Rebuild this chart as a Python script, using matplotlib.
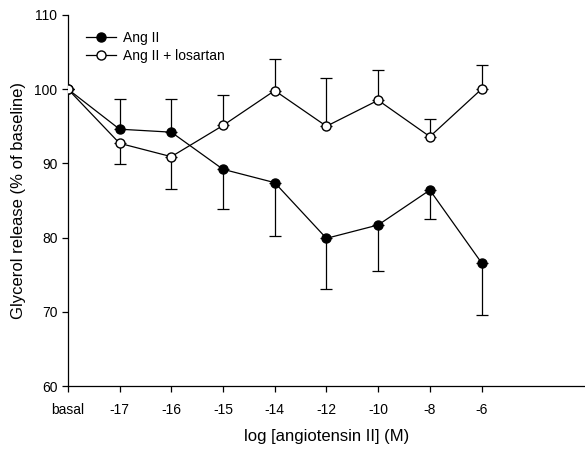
import matplotlib.pyplot as plt
from matplotlib.lines import Line2D

plt.rcParams["font.family"] = ["Liberation Sans", "DejaVu Sans"]

doses = ["basal", "-17", "-16", "-15", "-14", "-12", "-10", "-8", "-6"]

ang2 = [100, 94.6, 94.2, 89.2, 87.4, 79.9, 81.7, 86.4, 76.6]
ang2_err_lo = [0, 0, 0, 5.4, 7.2, 6.8, 6.2, 3.9, 7.0]
ang2_err_hi = [0, 4.1, 4.5, 0, 0, 0, 0, 0, 0]

losartan = [100, 92.7, 90.9, 95.1, 99.8, 95.0, 98.5, 93.6, 100.0]
los_err_lo = [0, 2.8, 4.4, 0, 0, 0, 0, 0, 0]
los_err_hi = [0, 0, 0, 4.1, 4.3, 6.5, 4.1, 2.4, 3.2]

x = list(range(len(doses)))

fig = plt.figure(figsize=(5.85, 4.5), dpi=100)
ax = fig.add_axes([0.116, 0.142, 0.884, 0.825])

ax.errorbar(x, ang2, yerr=[ang2_err_lo, ang2_err_hi], color="black",
            marker="o", markersize=6.5, markerfacecolor="black",
            linewidth=0.9, elinewidth=0.9, capsize=4, capthick=0.9,
            zorder=3)
ax.errorbar(x, losartan, yerr=[los_err_lo, los_err_hi], color="black",
            marker="o", markersize=6.5, markerfacecolor="white",
            linewidth=0.9, elinewidth=0.9, capsize=4, capthick=0.9,
            zorder=4)

ax.set_xlim(0, 10)
ax.set_ylim(60, 110)
ax.set_xticks(x)
ax.set_xticklabels(doses)
ax.set_yticks([60, 70, 80, 90, 100, 110])

for side in ["top", "right"]:
    ax.spines[side].set_visible(False)
for side in ["left", "bottom"]:
    ax.spines[side].set_linewidth(0.9)

ax.tick_params(direction="out", length=4, width=0.9, labelsize=10)
ax.tick_params(axis="x", pad=8)

ax.set_xlabel("log [angiotensin II] (M)", fontsize=12, labelpad=9)
ax.set_ylabel("Glycerol release (% of baseline)", fontsize=12, labelpad=6)

# legend handles without error bars
handles = [
    Line2D([], [], color="black", marker="o", markersize=6.5,
           markerfacecolor="black", linewidth=0.9),
    Line2D([], [], color="black", marker="o", markersize=6.5,
           markerfacecolor="white", linewidth=0.9),
]
ax.legend(handles, ["Ang II", "Ang II + losartan"], loc="upper left",
          bbox_to_anchor=(0.01, 0.99), frameon=False, fontsize=10,
          handlelength=2.2, handletextpad=0.5, labelspacing=0.3)

fig.savefig("out.png", dpi=100)
